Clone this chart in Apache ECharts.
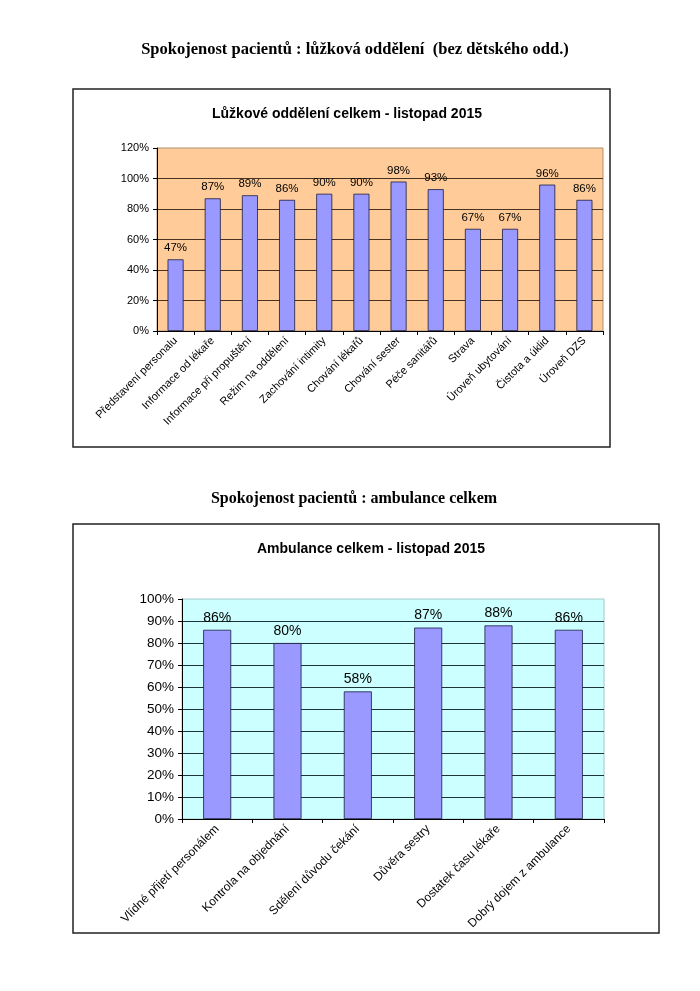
<!DOCTYPE html>
<html>
<head>
<meta charset="utf-8">
<script src="https://cdn.jsdelivr.net/npm/echarts@6/dist/echarts.min.js"></script>
<style>
html,body{margin:0;padding:0;background:#fff;}
#c{width:700px;height:991px;}
</style>
</head>
<body>
<div id="c"></div>
<script>
// Chart 1 data
const cats1 = ['Představení personalu','Informace od lékaře','Informace při propuštění','Režim na oddělení','Zachování intimity','Chování lékařů','Chování sester','Péče sanitářů','Strava','Úroveň ubytování','Čistota a úklid','Úroveň DZS'];
const vals1 = [47, 87, 89, 86, 90, 90, 98, 93, 67, 67, 96, 86];
// Chart 2 data
const cats2 = ['Vlídné přijetí personálem','Kontrola na objednání','Sdělení důvodu čekání','Důvěra sestry','Dostatek času lékaře','Dobrý dojem z ambulance'];
const vals2 = [86, 80, 58, 87, 88, 86];

const pageTitle1 = 'Spokojenost pacientů : lůžková oddělení  (bez dětského odd.)';
const pageTitle2 = 'Spokojenost pacientů : ambulance celkem';
const chartTitle1 = 'Lůžkové oddělení celkem - listopad 2015';
const chartTitle2 = 'Ambulance celkem - listopad 2015';

const sans = 'Liberation Sans, Arial, sans-serif';
const serif = 'Liberation Serif, Times New Roman, serif';

const chart = echarts.init(document.getElementById('c'), null, {renderer:'canvas'});
chart.setOption({
  backgroundColor: '#fff',
  animation: false,
  graphic: [
    {type:'rect', shape:{x:73, y:89, width:537, height:358}, style:{fill:'#fff', stroke:'#222', lineWidth:1.5}, z:-10},
    {type:'rect', shape:{x:73, y:524, width:586, height:409}, style:{fill:'#fff', stroke:'#222', lineWidth:1.5}, z:-10}
  ],
  title: [
    {text: pageTitle1, left: 350, top: 36, textAlign:'center', textStyle:{fontFamily:serif, fontWeight:'bold', fontSize:16.5, color:'#000'}},
    {text: pageTitle2, left: 349, top: 486, textAlign:'center', textStyle:{fontFamily:serif, fontWeight:'bold', fontSize:16, color:'#000'}},
    {text: chartTitle1, left: 342, top: 102, textAlign:'center', textStyle:{fontFamily:sans, fontWeight:'bold', fontSize:14, color:'#000'}},
    {text: chartTitle2, left: 366, top: 537, textAlign:'center', textStyle:{fontFamily:sans, fontWeight:'bold', fontSize:14, color:'#000'}}
  ],
  grid: [
    {left:157, top:148, width:446, height:183, show:true, backgroundColor:'#FFCC99', borderColor:'#b09070', borderWidth:1},
    {left:182, top:599, width:422, height:220, show:true, backgroundColor:'#CCFFFF', borderColor:'#a0c8c8', borderWidth:1}
  ],
  xAxis: [
    {type:'category', gridIndex:0, data:cats1,
     axisLine:{lineStyle:{color:'#000', width:1}},
     axisTick:{show:true, alignWithLabel:false, length:4, lineStyle:{color:'#000'}},
     axisLabel:{rotate:45, interval:0, fontFamily:sans, fontSize:11, color:'#000', margin:8}},
    {type:'category', gridIndex:1, data:cats2,
     axisLine:{lineStyle:{color:'#000', width:1}},
     axisTick:{show:true, alignWithLabel:false, length:4, lineStyle:{color:'#000'}},
     axisLabel:{rotate:45, interval:0, fontFamily:sans, fontSize:12, color:'#000', margin:8}}
  ],
  yAxis: [
    {type:'value', gridIndex:0, min:0, max:120, interval:20,
     axisLine:{show:true, lineStyle:{color:'#000'}},
     axisTick:{show:true, length:4, lineStyle:{color:'#000'}},
     splitLine:{showMaxLine:false, lineStyle:{color:'#4a3220', width:1}},
     axisLabel:{formatter:'{value}%', fontFamily:sans, fontSize:11, color:'#000', margin:8}},
    {type:'value', gridIndex:1, min:0, max:100, interval:10,
     axisLine:{show:true, lineStyle:{color:'#000'}},
     axisTick:{show:true, length:4, lineStyle:{color:'#000'}},
     splitLine:{showMaxLine:false, lineStyle:{color:'#1e3434', width:1}},
     axisLabel:{formatter:'{value}%', fontFamily:sans, fontSize:13.5, color:'#000', margin:8}}
  ],
  series: [
    {type:'bar', xAxisIndex:0, yAxisIndex:0, data:vals1, barWidth:16,
     itemStyle:{color:'#9999FF', borderColor:'#1a1a40', borderWidth:0.8},
     label:{show:true, position:'top', distance:5, formatter:'{c}%', fontFamily:sans, fontSize:11.5, color:'#000'}},
    {type:'bar', xAxisIndex:1, yAxisIndex:1, data:vals2, barWidth:28,
     itemStyle:{color:'#9999FF', borderColor:'#1a1a40', borderWidth:0.8},
     label:{show:true, position:'top', distance:5, formatter:'{c}%', fontFamily:sans, fontSize:14, color:'#000'}}
  ]
});
</script>
</body>
</html>
